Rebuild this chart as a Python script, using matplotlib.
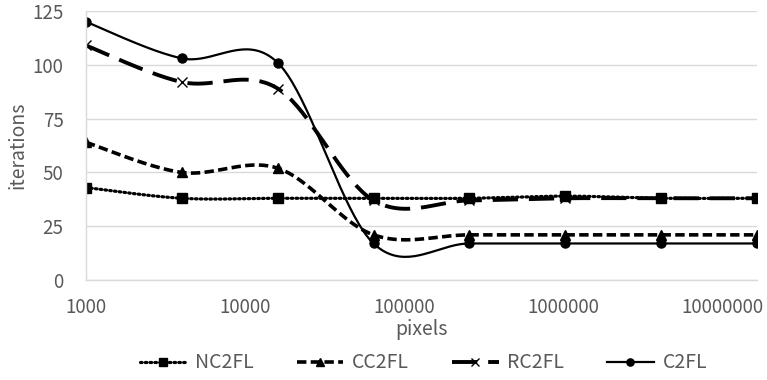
import numpy as np
import matplotlib
matplotlib.use("Agg")
import matplotlib.pyplot as plt

plt.rcParams['font.family'] = ['Noto Sans CJK JP', 'DejaVu Sans']

# data
pixels = [1000, 4000, 16000, 64000, 256000, 1024000, 4096000, 16384000]
nc2fl = [43, 38, 38, 38, 38, 39, 38, 38]
cc2fl = [64, 50, 52, 21, 21, 21, 21, 21]
rc2fl = [109, 92, 89, 37, 37, 38, 38, 38]
c2fl = [120, 103, 101, 17, 17, 17, 17, 17]
y_ticks = [0, 25, 50, 75, 100, 125]
x_ticks = [1000, 10000, 100000, 1000000, 10000000]

grey = "#595959"
grid = "#d9d9d9"


def smooth(xs, ys, steps=40):
    # Excel-style smoothed line: bezier through points, worked out in log-x space
    u = np.log10(np.array(xs, dtype=float))
    v = np.array(ys, dtype=float)
    p = np.column_stack([u, v])
    n = len(p)
    out = [p[0]]
    marks = [0]
    t = np.linspace(0, 1, steps + 1)[1:, None]
    for i in range(n - 1):
        p0 = p[max(i - 1, 0)]
        p1 = p[i]
        p2 = p[i + 1]
        p3 = p[min(i + 2, n - 1)]
        c1 = p1 + (p2 - p0) / 6
        c2 = p2 - (p3 - p1) / 6
        seg = ((1 - t) ** 3) * p1 + 3 * ((1 - t) ** 2) * t * c1 \
            + 3 * (1 - t) * t ** 2 * c2 + t ** 3 * p2
        out.extend(seg)
        marks.append(len(out) - 1)
    out = np.array(out)
    return 10 ** out[:, 0], out[:, 1], marks


fig = plt.figure(figsize=(7.67, 3.8), dpi=100)
ax = fig.add_axes([0.112, 0.263, 0.875, 0.708])

series = [
    ("NC2FL", nc2fl, dict(linestyle=(0, (0.5, 1.0)), lw=2.3, marker="s", ms=6.5,
                          dash_capstyle="round")),
    ("CC2FL", cc2fl, dict(linestyle=(0, (2.6, 1.2)), lw=2.6, marker="^", ms=7)),
    ("RC2FL", rc2fl, dict(linestyle=(0, (6.5, 2.8)), lw=2.8, marker="x", ms=7,
                          mew=1.0)),
    ("C2FL", c2fl, dict(linestyle="-", lw=1.6, marker="o", ms=6.5)),
]

for name, vals, st in series:
    sx, sy, marks = smooth(pixels, vals)
    ax.plot(sx, sy, color="black", markevery=marks, label=name, **st)

ax.set_xscale("log")
ax.set_xlim(1000, 16384000)
ax.set_ylim(0, 125)
ax.set_xticks(x_ticks)
ax.set_xticklabels([str(v) for v in x_ticks])
ax.xaxis.set_minor_locator(matplotlib.ticker.NullLocator())
ax.set_yticks(y_ticks)
ax.yaxis.grid(True, color=grid, lw=1)
ax.set_axisbelow(True)

for s in ["top", "right"]:
    ax.spines[s].set_visible(False)
for s in ["left", "bottom"]:
    ax.spines[s].set_color(grid)
    ax.spines[s].set_linewidth(1)

ax.tick_params(axis="both", length=0, labelsize=13.5, colors=grey)
ax.tick_params(axis="x", pad=12)
ax.tick_params(axis="y", pad=16)

ax.set_xlabel("pixels", fontsize=14, color=grey, labelpad=1)
ax.set_ylabel("iterations", fontsize=14, color=grey, labelpad=3)

leg = fig.legend(loc="center", bbox_to_anchor=(0.552, 0.045), ncol=4, frameon=False,
                 fontsize=14, labelcolor=grey, handlelength=2.4, columnspacing=2.2,
                 handletextpad=0.45, numpoints=1, markerscale=0.8)

fig.savefig("out.png", dpi=100)
plt.close(fig)
